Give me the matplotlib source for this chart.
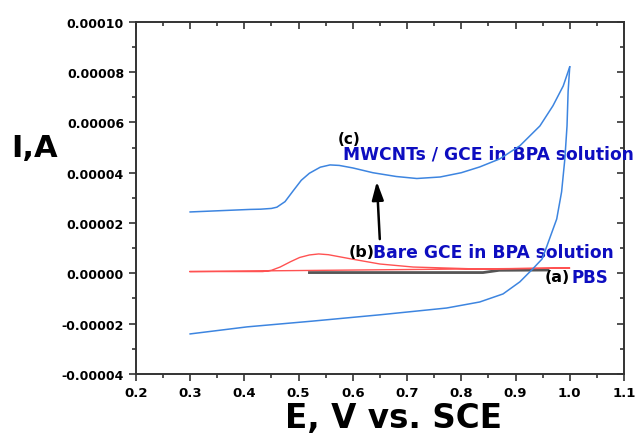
import matplotlib
matplotlib.use('Agg')
import matplotlib.pyplot as plt
from matplotlib.ticker import MultipleLocator, FormatStrFormatter

# (c) MWCNTs/GCE in BPA: forward scan 0.3 -> 1.0 V
c_fwd_E = [0.30, 0.41, 0.43, 0.45, 0.46, 0.475, 0.49, 0.505, 0.52, 0.54, 0.558,
           0.575, 0.60, 0.637, 0.68, 0.718, 0.761, 0.80, 0.834, 0.871, 0.908,
           0.945, 0.969, 0.988, 1.00]
c_fwd_I = [2.44e-5, 2.54e-5, 2.55e-5, 2.58e-5, 2.63e-5, 2.85e-5, 3.28e-5, 3.70e-5,
           3.98e-5, 4.22e-5, 4.31e-5, 4.29e-5, 4.19e-5, 4.00e-5, 3.85e-5, 3.77e-5,
           3.83e-5, 4.00e-5, 4.23e-5, 4.55e-5, 5.07e-5, 5.86e-5, 6.66e-5, 7.45e-5,
           8.21e-5]
# reverse scan 1.0 -> 0.3 V
c_rev_E = [1.00, 0.997, 0.995, 0.991, 0.985, 0.976, 0.958, 0.949, 0.932, 0.908,
           0.877, 0.834, 0.773, 0.65, 0.526, 0.405, 0.30]
c_rev_I = [8.21e-5, 7.22e-5, 5.86e-5, 4.55e-5, 3.24e-5, 2.16e-5, 1.09e-5, 5.7e-6,
           1.8e-6, -3.4e-6, -8.2e-6, -1.14e-5, -1.38e-5, -1.65e-5, -1.90e-5,
           -2.13e-5, -2.41e-5]

# (b) bare GCE in BPA
b_E = [0.30, 0.434, 0.45, 0.466, 0.485, 0.502, 0.52, 0.537, 0.555, 0.575, 0.60,
       0.65, 0.711, 0.834, 1.00, 0.30]
b_I = [0.7e-6, 0.7e-6, 1.2e-6, 2.5e-6, 4.6e-6, 6.3e-6, 7.3e-6, 7.7e-6, 7.4e-6,
       6.6e-6, 5.6e-6, 3.7e-6, 2.5e-6, 1.7e-6, 2.1e-6, 0.7e-6]

# (a) PBS
a_E = [0.52, 0.84, 0.87, 0.96]
a_I = [0.3e-6, 0.3e-6, 1.2e-6, 1.3e-6]

blue = '#3d85e0'
red = '#ff5252'
txt_blue = '#0d0dc0'
font = 'DejaVu Sans'

fig = plt.figure(figsize=(6.38, 4.39), dpi=100)
ax = fig.add_axes([0.213, 0.146, 0.765, 0.802])

ax.plot(a_E, a_I, color='#555555', lw=2.0, zorder=2)
ax.plot(b_E, b_I, color=red, lw=1.0, zorder=3)
ax.plot(c_fwd_E, c_fwd_I, color=blue, lw=1.1, zorder=4)
ax.plot(c_rev_E, c_rev_I, color=blue, lw=1.1, zorder=4)

ax.set_xlim(0.2, 1.1)
ax.set_ylim(-0.00004, 0.00010)
ax.xaxis.set_major_locator(MultipleLocator(0.1))
ax.xaxis.set_minor_locator(MultipleLocator(0.05))
ax.yaxis.set_major_locator(MultipleLocator(0.00002))
ax.yaxis.set_minor_locator(MultipleLocator(0.00001))
ax.xaxis.set_major_formatter(FormatStrFormatter('%.1f'))
ax.yaxis.set_major_formatter(FormatStrFormatter('%.5f'))

for s in ax.spines.values():
    s.set_color('#333333')
    s.set_linewidth(1.4)
ax.tick_params(which='both', direction='out', color='#333333', width=1.2,
               top=False, right=False)
ax.tick_params(which='major', length=5)
ax.tick_params(which='minor', length=3)
for lab in ax.get_xticklabels():
    lab.set_fontsize(9.5)
    lab.set_fontweight('bold')
    lab.set_family(font)
for lab in ax.get_yticklabels():
    lab.set_fontsize(9)
    lab.set_fontweight('bold')
    lab.set_family(font)

# inward ticks on top and right
sec_x = ax.secondary_xaxis('top')
sec_x.xaxis.set_major_locator(MultipleLocator(0.1))
sec_x.xaxis.set_minor_locator(MultipleLocator(0.05))
sec_x.tick_params(which='both', direction='in', labeltop=False, color='#333333',
                  width=1.2)
sec_x.tick_params(which='major', length=5)
sec_x.tick_params(which='minor', length=3)
sec_y = ax.secondary_yaxis('right')
sec_y.yaxis.set_major_locator(MultipleLocator(0.00002))
sec_y.yaxis.set_minor_locator(MultipleLocator(0.00001))
sec_y.tick_params(which='both', direction='in', labelright=False, color='#333333',
                  width=1.2)
sec_y.tick_params(which='major', length=5)
sec_y.tick_params(which='minor', length=3)
for sp in (sec_x.spines.values(), sec_y.spines.values()):
    for s in sp:
        s.set_visible(False)

fig.text(0.018, 0.662, 'I,A', fontsize=22, fontweight='bold', family=font,
         va='center', ha='left')
fig.text(0.616, 0.008, 'E, V vs. SCE', fontsize=23.5, fontweight='bold',
         family=font, va='bottom', ha='center')

ax.text(0.573, 5.35e-5, '(c)', fontsize=11, fontweight='bold', family=font,
        color='black', va='center', ha='left')
ax.text(0.582, 4.75e-5, 'MWCNTs / GCE in BPA solution', fontsize=12.3,
        fontweight='bold', family=font, color=txt_blue, va='center', ha='left',
        clip_on=False)
ax.text(0.593, 0.85e-5, '(b)', fontsize=11.5, fontweight='bold', family=font,
        color='black', va='center', ha='left')
ax.text(0.637, 0.85e-5, 'Bare GCE in BPA solution', fontsize=12.3,
        fontweight='bold', family=font, color=txt_blue, va='center', ha='left')
ax.text(0.954, -0.14e-5, '(a)', fontsize=11.5, fontweight='bold', family=font,
        color='black', va='center', ha='left')
ax.text(1.004, -0.14e-5, 'PBS', fontsize=12, fontweight='bold', family=font,
        color=txt_blue, va='center', ha='left')

ax.annotate('', xy=(0.644, 3.76e-5), xytext=(0.650, 1.25e-5),
            arrowprops=dict(arrowstyle='-|>,head_width=0.35,head_length=1.1',
                            color='black', lw=1.8))

fig.savefig('out.png', dpi=100)
